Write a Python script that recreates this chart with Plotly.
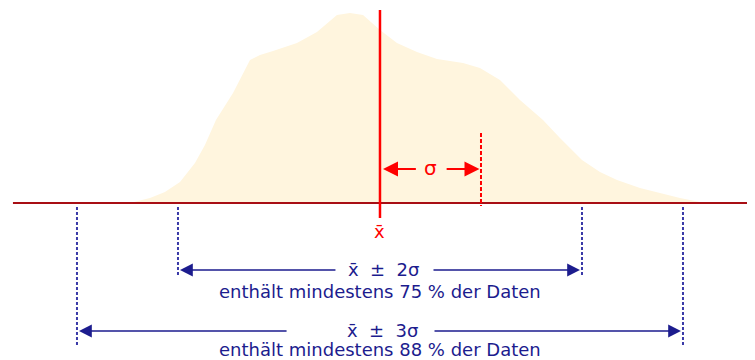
import plotly.graph_objects as go

# Distribution shape (x in units of sigma around the mean, relative frequency height)
curve_x = [-2.475, -2.277, -2.129, -1.980, -1.832, -1.733, -1.624, -1.455, -1.287, -1.188,
           -1.059, -0.822, -0.624, -0.426, -0.297, -0.168, 0.0, 0.168, 0.366, 0.564,
           0.822, 0.990, 1.188, 1.386, 1.614, 1.782, 2.0, 2.178, 2.347, 2.574,
           2.772, 2.970, 3.168, 3.267]
curve_y = [0, 5, 11, 21, 40, 58, 83, 110, 143, 148,
           152, 160, 171, 188, 190, 188, 173, 160, 151, 144,
           140, 135, 123, 103, 83, 65, 43, 31, 23, 15,
           10, 5, 1, 0]

mean = 0.0
sigma = 1.0
k_values = [2, 3]
k_labels = ["x\u0304\u00a0\u00a0±\u00a0\u00a02σ", "x\u0304\u00a0\u00a0±\u00a0\u00a03σ"]
k_texts = ["enthält mindestens 75 % der Daten", "enthält mindestens 88 % der Daten"]

RED = "#FF0000"
BASE = "#A80E14"
NAVY = "#1C1C8E"
DASHBLUE = "#3A3AA8"
FONT = "DejaVu Sans"

fig = go.Figure()
fig.add_trace(go.Scatter(x=curve_x, y=curve_y, mode="lines", fill="tozeroy",
                         fillcolor="#FFF5DE", line=dict(width=0, color="#FFF5DE"),
                         hoverinfo="skip", showlegend=False))

shapes = []
annotations = []

# baseline
shapes.append(dict(type="line", xref="x", yref="y", x0=-3.634, x1=3.75, y0=0, y1=0,
                   line=dict(color=BASE, width=2)))
# mean line
shapes.append(dict(type="line", xref="x", yref="y", x0=mean, x1=mean, y0=193, y1=-15,
                   line=dict(color=RED, width=2.5)))
# sigma dashed line
shapes.append(dict(type="line", xref="x", yref="y", x0=mean + sigma, x1=mean + sigma, y0=70, y1=-3,
                   line=dict(color=RED, width=2, dash="4px,2px")))

# sigma arrows
sig_y = 34
annotations.append(dict(x=mean + 0.03, y=sig_y, ax=mean + 0.37, ay=sig_y, xref="x", yref="y",
                        axref="x", ayref="y", text="", showarrow=True, arrowhead=2,
                        arrowsize=1.5, arrowwidth=2, arrowcolor=RED))
annotations.append(dict(x=mean + 0.985 * sigma, y=sig_y, ax=mean + 0.645, ay=sig_y, xref="x", yref="y",
                        axref="x", ayref="y", text="", showarrow=True, arrowhead=2,
                        arrowsize=1.5, arrowwidth=2, arrowcolor=RED))
annotations.append(dict(x=mean + 0.5, y=sig_y + 1, text="σ", showarrow=False, xref="x", yref="y",
                        font=dict(family=FONT, size=20, color=RED)))
# x-bar label
annotations.append(dict(x=mean, y=-28, text="x\u0304", showarrow=False, xref="x", yref="y",
                        font=dict(family=FONT, size=18, color=RED)))

arrow_y = {2: -67, 3: -128}
text_y = {2: -88, 3: -146}
line_bottom = {2: -72, 3: -142}
gap_left = {2: -0.426, 3: -0.91}
gap_right = {2: 0.515, 3: 0.525}
label_x = {2: 0.03, 3: 0.02}

for k, lab, txt in zip(k_values, k_labels, k_texts):
    for s in (-1, 1):
        shapes.append(dict(type="line", xref="x", yref="y", x0=mean + s * k * sigma,
                           x1=mean + s * k * sigma, y0=-4, y1=line_bottom[k],
                           line=dict(color=DASHBLUE, width=2, dash="3px,2px")))
    ay = arrow_y[k]
    annotations.append(dict(x=mean - k * sigma + 0.02, y=ay, ax=gap_left[k], ay=ay, xref="x", yref="y",
                            axref="x", ayref="y", text="", showarrow=True, arrowhead=2,
                            arrowsize=1.6, arrowwidth=1.6, arrowcolor=NAVY))
    annotations.append(dict(x=mean + k * sigma - 0.02, y=ay, ax=gap_right[k], ay=ay, xref="x", yref="y",
                            axref="x", ayref="y", text="", showarrow=True, arrowhead=2,
                            arrowsize=1.6, arrowwidth=1.6, arrowcolor=NAVY))
    annotations.append(dict(x=label_x[k], y=ay + 1, text=lab, showarrow=False, xref="x", yref="y",
                            font=dict(family=FONT, size=18, color=NAVY)))
    annotations.append(dict(x=0.0, y=text_y[k], text=txt, showarrow=False, xref="x", yref="y",
                            font=dict(family=FONT, size=18, color=NAVY)))

# The page body has an 8px margin, so the figure is sized and ranged to land on the window
fig.update_layout(
    width=747, height=352,
    margin=dict(l=0, r=0, t=0, b=0),
    paper_bgcolor="white", plot_bgcolor="white",
    xaxis=dict(range=[-3.683, 3.713], visible=False, fixedrange=True),
    yaxis=dict(range=[-157, 195], visible=False, fixedrange=True),
    shapes=shapes, annotations=annotations, showlegend=False,
)

fig.write_html("out.html")
